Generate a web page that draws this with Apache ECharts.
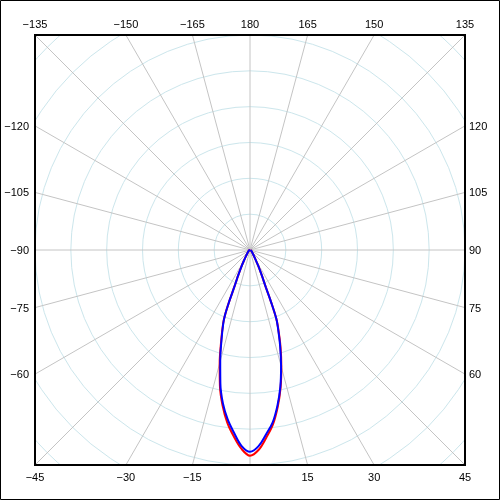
<!DOCTYPE html>
<html>
<head>
<meta charset="utf-8">
<script src="https://cdn.jsdelivr.net/npm/echarts@6/dist/echarts.min.js"></script>
<style>
  html, body { margin: 0; padding: 0; background: #fff; }
  #chart { width: 500px; height: 500px; }
</style>
</head>
<body>
<div id="chart"></div>
<script>
  // angles (deg, 0 = down, positive toward the right)
  const angles = [-90, -80, -70, -60, -50, -45, -40, -35, -32.5, -30, -27.5, -25, -24, -23, -22, -21, -20, -17.5, -15, -12.5, -10, -7.5, -5, -2.5,
    0, 2.5, 5, 7.5, 10, 12.5, 15, 17.5, 20, 21, 22, 23, 24, 25, 27.5, 30, 32.5, 35, 40, 45, 50, 60, 70, 80, 90];
  const blueValues = [0, 1, 3, 4, 6, 8, 11, 17, 22, 33, 50, 78, 92, 112, 154, 195, 218, 265, 321, 382, 435, 477, 512, 547,
    563, 548, 516, 485, 441, 391, 335, 279, 226, 204, 159, 114, 92, 78, 50, 31, 22, 17, 11, 8, 6, 4, 3, 1, 0];
  const redValues = [0, 1, 3, 4, 6, 8, 11, 17, 22, 33, 50, 78, 92, 112, 154, 195, 220, 268, 327, 388, 441, 486, 522, 555,
    574, 558, 525, 491, 445, 394, 338, 283, 228, 204, 159, 114, 92, 78, 50, 31, 22, 17, 11, 8, 6, 4, 3, 1, 0];
  // labels written around the frame
  const angleLabels = [-135, -150, -165, 180, 165, 150, 135, 120, 105, 90, 75, 60, 45, 30, 15, -15, -30, -45, -60, -75, -90, -105, -120];
  const ringStep = 100;
  const ringMax = 900;

  const cx = 250, cy = 250, half = 215;
  const font = '11px "Liberation Sans", Arial, sans-serif';

  let graphics = [
    // mask everything outside the plot frame
    {type: 'rect', z: 100, shape: {x: 0, y: 0, width: 500, height: cy - half}, style: {fill: '#fff'}},
    {type: 'rect', z: 100, shape: {x: 0, y: cy + half, width: 500, height: 500 - cy - half}, style: {fill: '#fff'}},
    {type: 'rect', z: 100, shape: {x: 0, y: 0, width: cx - half, height: 500}, style: {fill: '#fff'}},
    {type: 'rect', z: 100, shape: {x: cx + half, y: 0, width: 500 - cx - half, height: 500}, style: {fill: '#fff'}},
    {type: 'rect', z: 101, shape: {x: cx - half, y: cy - half, width: half * 2, height: half * 2},
      style: {fill: 'none', stroke: '#000', lineWidth: 2}},
    {type: 'rect', z: 101, shape: {x: 0.5, y: 0.5, width: 499, height: 499},
      style: {fill: 'none', stroke: '#000', lineWidth: 1}}
  ];

  angleLabels.forEach(function (v) {
    let a = v * Math.PI / 180;
    let dx = Math.sin(a), dy = Math.cos(a);
    let t = half / Math.max(Math.abs(dx), Math.abs(dy));
    let px = cx + dx * t, py = cy + dy * t;
    let style = {text: String(v).replace('-', '\u2212'), fill: '#000', font: font};
    if (Math.abs(dy) >= Math.abs(dx) - 1e-9) {
      style.textAlign = 'center';
      style.textVerticalAlign = 'middle';
      py = dy < 0 ? py - 10 : py + 13;
    } else {
      style.textVerticalAlign = 'middle';
      if (dx < 0) { style.textAlign = 'right'; px -= 6; }
      else { style.textAlign = 'left'; px += 4; }
      py += 1;
    }
    graphics.push({type: 'text', z: 102, x: px, y: py, style: style});
  });

  let chart = echarts.init(document.getElementById('chart'));
  chart.setOption({
    animation: false,
    backgroundColor: '#fff',
    polar: {
      center: [cx, cy],
      radius: half / 6 * (ringMax / ringStep)
    },
    angleAxis: {
      type: 'value',
      min: -180,
      max: 180,
      interval: 15,
      startAngle: 90,
      clockwise: false,
      axisLine: {show: false},
      axisTick: {show: false},
      axisLabel: {show: false},
      splitLine: {show: true, lineStyle: {color: '#c4c4c4', width: 1}}
    },
    radiusAxis: {
      type: 'value',
      min: 0,
      max: ringMax,
      interval: ringStep,
      axisLine: {show: false},
      axisTick: {show: false},
      axisLabel: {show: false},
      splitLine: {show: true, lineStyle: {color: '#cce6ec', width: 1}}
    },
    series: [
      {
        type: 'line',
        coordinateSystem: 'polar',
        symbol: 'none',
        smooth: 0.35,
        lineStyle: {color: '#ff0000', width: 2},
        data: angles.map((a, i) => [redValues[i], a])
      },
      {
        type: 'line',
        coordinateSystem: 'polar',
        symbol: 'none',
        smooth: 0.35,
        lineStyle: {color: '#0000ff', width: 2},
        data: angles.map((a, i) => [blueValues[i], a])
      }
    ],
    graphic: graphics
  });
</script>
</body>
</html>
